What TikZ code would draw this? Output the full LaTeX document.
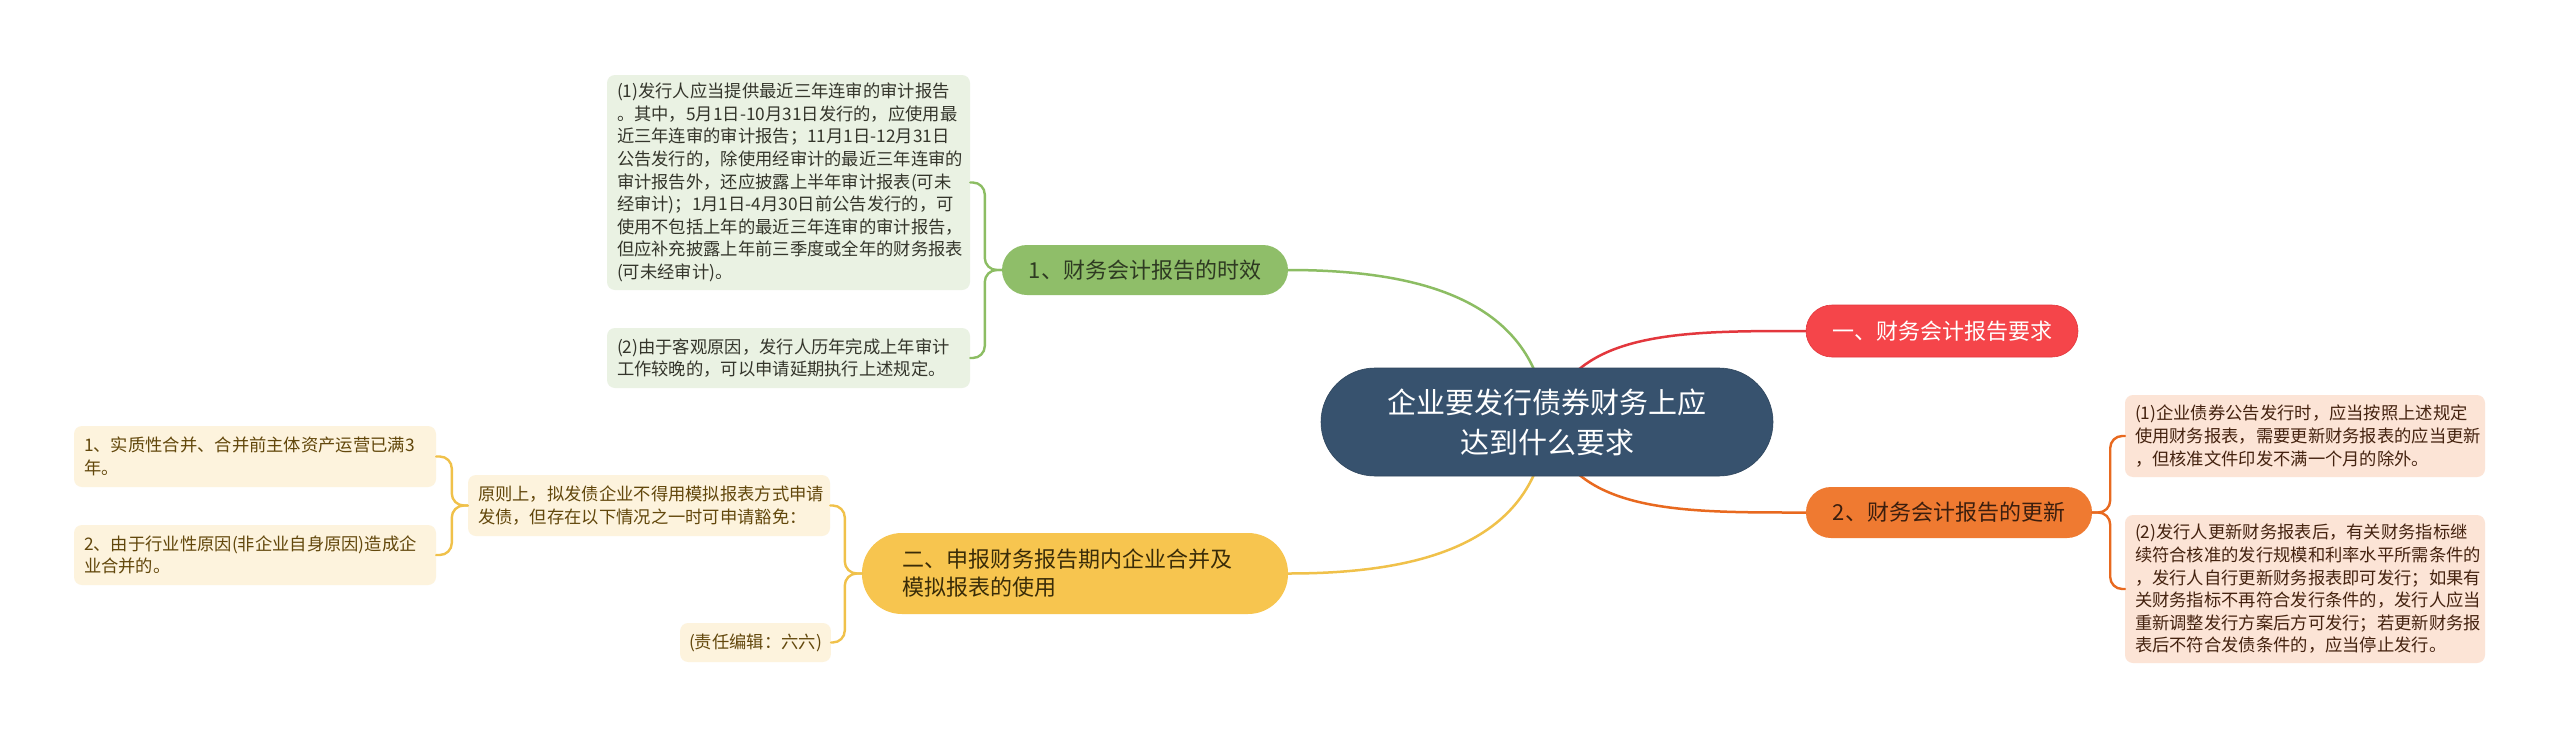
\documentclass[tikz,border=0pt]{standalone}
\usepackage{fontspec}
\newfontfamily\cjk{Noto Sans CJK SC}
\usetikzlibrary{backgrounds}
\definecolor{cfill}{HTML}{37526E}
\definecolor{gfill}{HTML}{8FBE69}
\definecolor{gtext}{HTML}{2E3A22}
\definecolor{gline}{HTML}{8CBD63}
\definecolor{glfill}{HTML}{EAF2E3}
\definecolor{gltext}{HTML}{34352B}
\definecolor{rfill}{HTML}{F5454A}
\definecolor{rline}{HTML}{E3373D}
\definecolor{ofill}{HTML}{EF7A31}
\definecolor{otext}{HTML}{3B1E0E}
\definecolor{oline}{HTML}{E8691F}
\definecolor{olfill}{HTML}{FCE4D6}
\definecolor{oltext}{HTML}{44220F}
\definecolor{yfill}{HTML}{F7C54F}
\definecolor{ytext}{HTML}{3A2C08}
\definecolor{yline}{HTML}{F0C14A}
\definecolor{ylfill}{HTML}{FDF3DD}
\definecolor{yltext}{HTML}{62470B}
\tikzset{
  leaf/.style={rounded corners=8pt, inner xsep=10pt, inner ysep=0pt, align=left,
    font=\cjk\fontsize{17.3}{22.6}\selectfont},
  gleaf/.style={leaf, fill=glfill, text=gltext},
  oleaf/.style={leaf, fill=olfill, text=oltext},
  yleaf/.style={leaf, fill=ylfill, text=yltext},
  pill/.style={inner sep=0pt, font=\cjk\fontsize{22}{28}\selectfont, align=center},
  conn/.style={line width=2.5pt, line cap=round},
  brk/.style={line width=2.4pt, rounded corners=12pt, line cap=round},
}
\begin{document}
\begin{tikzpicture}[x=1pt,y=-1pt]
\useasboundingbox (0,0) rectangle (2560,739);

% central node
\node[fill=cfill, draw=cfill!85!black, line width=0.6pt, rounded corners=54pt,
  minimum width=452pt, minimum height=108pt, text width=420pt, align=center,
  text=white, inner sep=0pt, font=\cjk\fontsize{29}{40}\selectfont]
  (c) at (1547,422) {企业要发行债券财务上应\\达到什么要求};

% green branch
\node[pill, fill=gfill, text=gtext, rounded corners=25pt, minimum width=286pt, minimum height=50pt]
  (n1) at (1145,270) {1、财务会计报告的时效};
\node[gleaf, text width=343pt, minimum height=215pt] (g1) at (788.5,182.5)
  {(1)发行人应当提供最近三年连审的审计报告\\
   。其中，5月1日-10月31日发行的，应使用最\\
   近三年连审的审计报告；11月1日-12月31日\\
   公告发行的，除使用经审计的最近三年连审的\\
   审计报告外，还应披露上半年审计报表(可未\\
   经审计)；1月1日-4月30日前公告发行的，可\\
   使用不包括上年的最近三年连审的审计报告，\\
   但应补充披露上年前三季度或全年的财务报表\\
   (可未经审计)。};
\node[gleaf, text width=343pt, minimum height=60pt] (g2) at (788.5,358)
  {(2)由于客观原因，发行人历年完成上年审计\\
   工作较晚的，可以申请延期执行上述规定。};

% red branch
\node[pill, fill=rfill, draw=rline, line width=0.6pt, text=white, rounded corners=26pt,
  minimum width=272pt, minimum height=52pt] (r) at (1942,331) {一、财务会计报告要求};

% orange branch
\node[pill, fill=ofill, text=otext, rounded corners=25pt, minimum width=286pt, minimum height=51pt]
  (o) at (1949,512.5) {2、财务会计报告的更新};
\node[oleaf, text width=340pt, minimum height=82pt] (o1) at (2305,436)
  {(1)企业债券公告发行时，应当按照上述规定\\
   使用财务报表，需要更新财务报表的应当更新\\
   ，但核准文件印发不满一个月的除外。};
\node[oleaf, text width=340pt, minimum height=148pt] (o2) at (2305,589)
  {(2)发行人更新财务报表后，有关财务指标继\\
   续符合核准的发行规模和利率水平所需条件的\\
   ，发行人自行更新财务报表即可发行；如果有\\
   关财务指标不再符合发行条件的，发行人应当\\
   重新调整发行方案后方可发行；若更新财务报\\
   表后不符合发债条件的，应当停止发行。};

% yellow branch
\node[fill=yfill, text=ytext, rounded corners=40pt, minimum width=426pt, minimum height=81pt,
  text width=346pt, inner sep=0pt, align=left, font=\cjk\fontsize{22}{28}\selectfont]
  (y) at (1075,573.5) {二、申报财务报告期内企业合并及\\模拟报表的使用};
\node[yleaf, text width=342pt, minimum height=61pt] (ym) at (649,505.5)
  {原则上，拟发债企业不得用模拟报表方式申请\\
   发债，但存在以下情况之一时可申请豁免：};
\node[yleaf, inner xsep=9pt, minimum width=149pt, minimum height=39pt] (ye) at (755.5,642.5)
  {(责任编辑：六六)};
\node[yleaf, text width=342pt, minimum height=61pt] (y1) at (255,456.5)
  {1、实质性合并、合并前主体资产运营已满3\\
   年。};
\node[yleaf, text width=342pt, minimum height=60pt] (y2) at (255,555)
  {2、由于行业性原因(非企业自身原因)造成企\\
   业合并的。};

\begin{pgfonlayer}{background}
  \fill[white] (0,0) rectangle (2560,739);
  \draw[conn, gline] (c.center) .. controls +(-10,-122) and +(132,0) .. (n1.east);
  \draw[conn, rline] (c.center) .. controls +(23,-92) and +(-126,0) .. (r.west);
  \draw[conn, oline] (c.center) .. controls +(23,92) and +(-126,0) .. (o.west);
  \draw[conn, yline] (c.center) .. controls +(-10,122) and +(132,0) .. (y.east);
\end{pgfonlayer}

% brackets
\draw[brk, gline] (n1.west) -- ++(-17,0) |- (g1.east);
\draw[brk, gline] (n1.west) -- ++(-17,0) |- (g2.east);
\draw[brk, oline] (o.east) -- ++(18,0) |- (o1.west);
\draw[brk, oline] (o.east) -- ++(18,0) |- (o2.west);
\draw[brk, yline] (y.west) -- ++(-17,0) |- (ym.east);
\draw[brk, yline] (y.west) -- ++(-17,0) |- (ye.east);
\draw[brk, yline] (ym.west) -- ++(-16,0) |- (y1.east);
\draw[brk, yline] (ym.west) -- ++(-16,0) |- (y2.east);
\end{tikzpicture}
\end{document}
